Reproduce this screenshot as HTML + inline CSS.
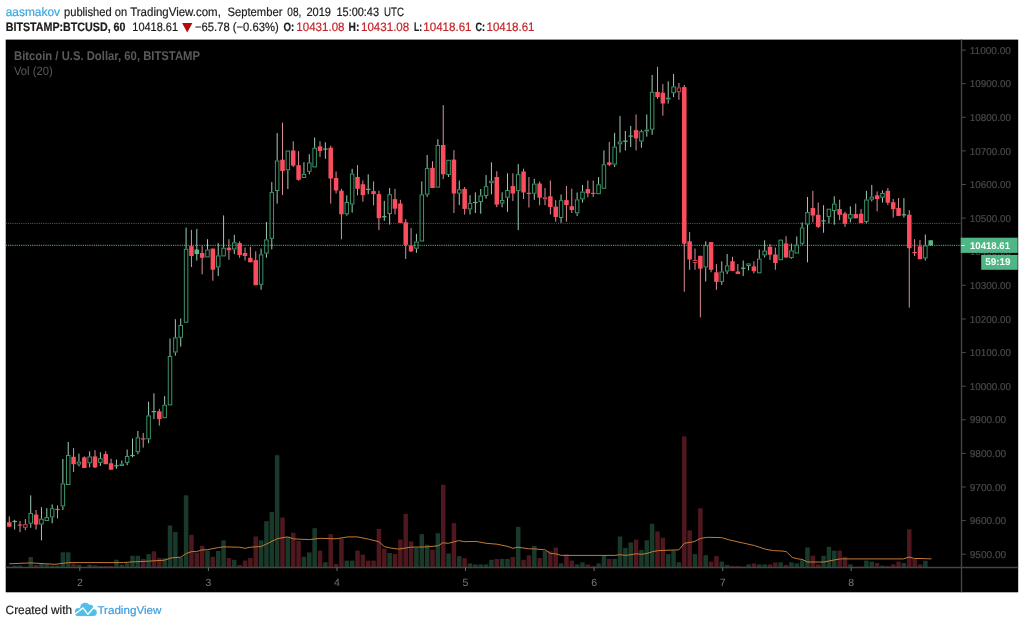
<!DOCTYPE html>
<html lang="en">
<head>
<meta charset="utf-8">
<title>BTCUSD chart</title>
<style>
html,body{margin:0;padding:0;background:#fff;}
body{width:1024px;height:626px;position:relative;overflow:hidden;font-family:"Liberation Sans",Arial,sans-serif;}
svg.chart{position:absolute;left:0;top:0;will-change:transform;}
svg.txt{position:absolute;left:0;top:0;will-change:transform;}
</style>
</head>
<body>
<svg class="chart" width="1024" height="626" viewBox="0 0 1024 626" text-rendering="geometricPrecision">
<rect x="5.7" y="39.6" width="1012.5" height="552.7" fill="#000"/>
<g>
<rect x="7.05" y="566.6" width="4.5" height="0.5" fill="#4e181e"/>
<rect x="12.41" y="565.6" width="4.5" height="1.5" fill="#193a2a"/>
<rect x="17.76" y="565.6" width="4.5" height="1.5" fill="#193a2a"/>
<rect x="28.48" y="557.0" width="4.5" height="10.1" fill="#193a2a"/>
<rect x="33.84" y="565.0" width="4.5" height="2.1" fill="#4e181e"/>
<rect x="39.19" y="563.6" width="4.5" height="3.5" fill="#193a2a"/>
<rect x="44.55" y="564.3" width="4.5" height="2.8" fill="#193a2a"/>
<rect x="49.91" y="565.6" width="4.5" height="1.5" fill="#193a2a"/>
<rect x="55.26" y="565.6" width="4.5" height="1.5" fill="#193a2a"/>
<rect x="60.62" y="552.3" width="4.5" height="14.8" fill="#193a2a"/>
<rect x="65.98" y="552.3" width="4.5" height="14.8" fill="#193a2a"/>
<rect x="71.33" y="563.6" width="4.5" height="3.5" fill="#4e181e"/>
<rect x="76.69" y="564.7" width="4.5" height="2.4" fill="#193a2a"/>
<rect x="82.05" y="566.7" width="4.5" height="0.4" fill="#4e181e"/>
<rect x="87.41" y="564.7" width="4.5" height="2.4" fill="#193a2a"/>
<rect x="92.76" y="565.2" width="4.5" height="1.9" fill="#4e181e"/>
<rect x="98.12" y="566.0" width="4.5" height="1.1" fill="#193a2a"/>
<rect x="103.48" y="566.0" width="4.5" height="1.1" fill="#4e181e"/>
<rect x="108.83" y="566.0" width="4.5" height="1.1" fill="#4e181e"/>
<rect x="114.19" y="559.7" width="4.5" height="7.4" fill="#193a2a"/>
<rect x="119.55" y="564.7" width="4.5" height="2.4" fill="#193a2a"/>
<rect x="124.90" y="563.3" width="4.5" height="3.8" fill="#193a2a"/>
<rect x="130.26" y="555.8" width="4.5" height="11.3" fill="#193a2a"/>
<rect x="135.62" y="555.8" width="4.5" height="11.3" fill="#193a2a"/>
<rect x="140.98" y="558.9" width="4.5" height="8.2" fill="#4e181e"/>
<rect x="146.33" y="554.1" width="4.5" height="13.0" fill="#193a2a"/>
<rect x="151.69" y="551.3" width="4.5" height="15.8" fill="#4e181e"/>
<rect x="157.05" y="557.9" width="4.5" height="9.2" fill="#4e181e"/>
<rect x="162.40" y="558.2" width="4.5" height="8.9" fill="#193a2a"/>
<rect x="167.76" y="525.5" width="4.5" height="41.6" fill="#193a2a"/>
<rect x="173.12" y="532.1" width="4.5" height="35.0" fill="#193a2a"/>
<rect x="178.47" y="557.5" width="4.5" height="9.6" fill="#193a2a"/>
<rect x="183.83" y="495.3" width="4.5" height="71.8" fill="#193a2a"/>
<rect x="189.19" y="534.8" width="4.5" height="32.3" fill="#4e181e"/>
<rect x="194.55" y="552.7" width="4.5" height="14.4" fill="#4e181e"/>
<rect x="199.90" y="545.8" width="4.5" height="21.3" fill="#4e181e"/>
<rect x="205.26" y="550.6" width="4.5" height="16.5" fill="#193a2a"/>
<rect x="210.62" y="556.8" width="4.5" height="10.3" fill="#4e181e"/>
<rect x="215.97" y="551.0" width="4.5" height="16.1" fill="#193a2a"/>
<rect x="221.33" y="540.3" width="4.5" height="26.8" fill="#193a2a"/>
<rect x="226.69" y="557.9" width="4.5" height="9.2" fill="#4e181e"/>
<rect x="232.04" y="559.8" width="4.5" height="7.3" fill="#193a2a"/>
<rect x="237.40" y="565.0" width="4.5" height="2.1" fill="#4e181e"/>
<rect x="242.76" y="560.6" width="4.5" height="6.5" fill="#4e181e"/>
<rect x="248.12" y="557.9" width="4.5" height="9.2" fill="#4e181e"/>
<rect x="253.47" y="536.5" width="4.5" height="30.6" fill="#4e181e"/>
<rect x="258.83" y="540.3" width="4.5" height="26.8" fill="#193a2a"/>
<rect x="264.19" y="521.1" width="4.5" height="46.0" fill="#193a2a"/>
<rect x="269.54" y="512.0" width="4.5" height="55.1" fill="#193a2a"/>
<rect x="274.90" y="455.2" width="4.5" height="111.9" fill="#193a2a"/>
<rect x="280.26" y="517.5" width="4.5" height="49.6" fill="#4e181e"/>
<rect x="285.61" y="536.9" width="4.5" height="30.2" fill="#193a2a"/>
<rect x="290.97" y="532.8" width="4.5" height="34.3" fill="#4e181e"/>
<rect x="296.33" y="541.0" width="4.5" height="26.1" fill="#4e181e"/>
<rect x="301.69" y="556.8" width="4.5" height="10.3" fill="#193a2a"/>
<rect x="307.04" y="552.4" width="4.5" height="14.7" fill="#193a2a"/>
<rect x="312.40" y="528.2" width="4.5" height="38.9" fill="#193a2a"/>
<rect x="317.76" y="550.6" width="4.5" height="16.5" fill="#4e181e"/>
<rect x="323.11" y="562.3" width="4.5" height="4.8" fill="#193a2a"/>
<rect x="328.47" y="534.1" width="4.5" height="33.0" fill="#4e181e"/>
<rect x="333.83" y="563.9" width="4.5" height="3.2" fill="#4e181e"/>
<rect x="339.18" y="538.7" width="4.5" height="28.4" fill="#4e181e"/>
<rect x="344.54" y="560.6" width="4.5" height="6.5" fill="#193a2a"/>
<rect x="349.90" y="560.6" width="4.5" height="6.5" fill="#193a2a"/>
<rect x="355.26" y="550.6" width="4.5" height="16.5" fill="#4e181e"/>
<rect x="360.61" y="554.7" width="4.5" height="12.4" fill="#4e181e"/>
<rect x="365.97" y="560.6" width="4.5" height="6.5" fill="#4e181e"/>
<rect x="371.33" y="560.6" width="4.5" height="6.5" fill="#4e181e"/>
<rect x="376.68" y="529.0" width="4.5" height="38.1" fill="#4e181e"/>
<rect x="382.04" y="548.6" width="4.5" height="18.5" fill="#4e181e"/>
<rect x="387.40" y="553.0" width="4.5" height="14.1" fill="#193a2a"/>
<rect x="392.75" y="554.0" width="4.5" height="13.1" fill="#4e181e"/>
<rect x="398.11" y="539.6" width="4.5" height="27.5" fill="#4e181e"/>
<rect x="403.47" y="513.9" width="4.5" height="53.2" fill="#4e181e"/>
<rect x="408.83" y="541.4" width="4.5" height="25.7" fill="#4e181e"/>
<rect x="414.18" y="547.9" width="4.5" height="19.2" fill="#193a2a"/>
<rect x="419.54" y="534.1" width="4.5" height="33.0" fill="#193a2a"/>
<rect x="424.90" y="544.7" width="4.5" height="22.4" fill="#193a2a"/>
<rect x="430.25" y="549.7" width="4.5" height="17.4" fill="#4e181e"/>
<rect x="435.61" y="533.2" width="4.5" height="33.9" fill="#193a2a"/>
<rect x="440.97" y="484.7" width="4.5" height="82.4" fill="#4e181e"/>
<rect x="446.32" y="553.4" width="4.5" height="13.7" fill="#193a2a"/>
<rect x="451.68" y="523.1" width="4.5" height="44.0" fill="#4e181e"/>
<rect x="457.04" y="556.1" width="4.5" height="11.0" fill="#193a2a"/>
<rect x="462.40" y="558.2" width="4.5" height="8.9" fill="#4e181e"/>
<rect x="467.75" y="563.4" width="4.5" height="3.7" fill="#193a2a"/>
<rect x="473.11" y="564.4" width="4.5" height="2.7" fill="#193a2a"/>
<rect x="478.47" y="564.4" width="4.5" height="2.7" fill="#193a2a"/>
<rect x="483.82" y="564.4" width="4.5" height="2.7" fill="#193a2a"/>
<rect x="489.18" y="559.8" width="4.5" height="7.3" fill="#193a2a"/>
<rect x="494.54" y="558.9" width="4.5" height="8.2" fill="#4e181e"/>
<rect x="499.89" y="558.9" width="4.5" height="8.2" fill="#193a2a"/>
<rect x="505.25" y="558.9" width="4.5" height="8.2" fill="#193a2a"/>
<rect x="510.61" y="557.1" width="4.5" height="10.0" fill="#4e181e"/>
<rect x="515.97" y="526.9" width="4.5" height="40.2" fill="#193a2a"/>
<rect x="521.32" y="559.8" width="4.5" height="7.3" fill="#4e181e"/>
<rect x="526.68" y="555.2" width="4.5" height="11.9" fill="#4e181e"/>
<rect x="532.04" y="545.8" width="4.5" height="21.3" fill="#193a2a"/>
<rect x="537.39" y="557.9" width="4.5" height="9.2" fill="#4e181e"/>
<rect x="542.75" y="551.0" width="4.5" height="16.1" fill="#193a2a"/>
<rect x="548.11" y="551.3" width="4.5" height="15.8" fill="#4e181e"/>
<rect x="553.46" y="547.5" width="4.5" height="19.6" fill="#4e181e"/>
<rect x="558.82" y="563.4" width="4.5" height="3.7" fill="#193a2a"/>
<rect x="564.18" y="554.3" width="4.5" height="12.8" fill="#4e181e"/>
<rect x="569.53" y="560.6" width="4.5" height="6.5" fill="#4e181e"/>
<rect x="574.89" y="564.4" width="4.5" height="2.7" fill="#193a2a"/>
<rect x="580.25" y="562.3" width="4.5" height="4.8" fill="#193a2a"/>
<rect x="585.61" y="564.4" width="4.5" height="2.7" fill="#4e181e"/>
<rect x="590.96" y="566.1" width="4.5" height="1.0" fill="#4e181e"/>
<rect x="596.32" y="563.4" width="4.5" height="3.7" fill="#193a2a"/>
<rect x="601.68" y="555.4" width="4.5" height="11.7" fill="#193a2a"/>
<rect x="607.03" y="558.9" width="4.5" height="8.2" fill="#4e181e"/>
<rect x="612.39" y="558.9" width="4.5" height="8.2" fill="#193a2a"/>
<rect x="617.75" y="536.5" width="4.5" height="30.6" fill="#193a2a"/>
<rect x="623.11" y="547.9" width="4.5" height="19.2" fill="#193a2a"/>
<rect x="628.46" y="542.4" width="4.5" height="24.7" fill="#193a2a"/>
<rect x="633.82" y="539.6" width="4.5" height="27.5" fill="#4e181e"/>
<rect x="639.18" y="549.9" width="4.5" height="17.2" fill="#193a2a"/>
<rect x="644.53" y="540.3" width="4.5" height="26.8" fill="#193a2a"/>
<rect x="649.89" y="523.8" width="4.5" height="43.3" fill="#193a2a"/>
<rect x="655.25" y="531.4" width="4.5" height="35.7" fill="#4e181e"/>
<rect x="660.60" y="537.8" width="4.5" height="29.3" fill="#4e181e"/>
<rect x="665.96" y="554.1" width="4.5" height="13.0" fill="#193a2a"/>
<rect x="671.32" y="550.6" width="4.5" height="16.5" fill="#193a2a"/>
<rect x="676.67" y="562.3" width="4.5" height="4.8" fill="#193a2a"/>
<rect x="682.03" y="436.4" width="4.5" height="130.7" fill="#4e181e"/>
<rect x="687.39" y="530.4" width="4.5" height="36.7" fill="#4e181e"/>
<rect x="692.75" y="554.1" width="4.5" height="13.0" fill="#193a2a"/>
<rect x="698.10" y="508.3" width="4.5" height="58.8" fill="#4e181e"/>
<rect x="703.46" y="555.2" width="4.5" height="11.9" fill="#193a2a"/>
<rect x="708.82" y="561.6" width="4.5" height="5.5" fill="#4e181e"/>
<rect x="714.17" y="556.1" width="4.5" height="11.0" fill="#4e181e"/>
<rect x="719.53" y="561.6" width="4.5" height="5.5" fill="#193a2a"/>
<rect x="724.89" y="565.0" width="4.5" height="2.1" fill="#193a2a"/>
<rect x="730.25" y="566.1" width="4.5" height="1.0" fill="#4e181e"/>
<rect x="735.60" y="566.1" width="4.5" height="1.0" fill="#4e181e"/>
<rect x="740.96" y="566.6" width="4.5" height="0.5" fill="#193a2a"/>
<rect x="746.32" y="564.4" width="4.5" height="2.7" fill="#193a2a"/>
<rect x="751.67" y="563.4" width="4.5" height="3.7" fill="#4e181e"/>
<rect x="757.03" y="564.4" width="4.5" height="2.7" fill="#193a2a"/>
<rect x="762.39" y="564.4" width="4.5" height="2.7" fill="#193a2a"/>
<rect x="767.74" y="564.4" width="4.5" height="2.7" fill="#4e181e"/>
<rect x="773.10" y="562.6" width="4.5" height="4.5" fill="#4e181e"/>
<rect x="778.46" y="562.3" width="4.5" height="4.8" fill="#193a2a"/>
<rect x="783.81" y="565.0" width="4.5" height="2.1" fill="#4e181e"/>
<rect x="789.17" y="562.3" width="4.5" height="4.8" fill="#193a2a"/>
<rect x="794.53" y="563.4" width="4.5" height="3.7" fill="#193a2a"/>
<rect x="799.89" y="560.2" width="4.5" height="6.9" fill="#193a2a"/>
<rect x="805.24" y="547.5" width="4.5" height="19.6" fill="#193a2a"/>
<rect x="810.60" y="555.7" width="4.5" height="11.4" fill="#4e181e"/>
<rect x="815.96" y="564.4" width="4.5" height="2.7" fill="#4e181e"/>
<rect x="821.31" y="555.7" width="4.5" height="11.4" fill="#193a2a"/>
<rect x="826.67" y="546.9" width="4.5" height="20.2" fill="#193a2a"/>
<rect x="832.03" y="550.6" width="4.5" height="16.5" fill="#193a2a"/>
<rect x="837.38" y="550.6" width="4.5" height="16.5" fill="#4e181e"/>
<rect x="842.74" y="556.8" width="4.5" height="10.3" fill="#4e181e"/>
<rect x="848.10" y="564.4" width="4.5" height="2.7" fill="#193a2a"/>
<rect x="853.46" y="566.7" width="4.5" height="0.4" fill="#4e181e"/>
<rect x="858.81" y="566.7" width="4.5" height="0.4" fill="#4e181e"/>
<rect x="864.17" y="560.6" width="4.5" height="6.5" fill="#193a2a"/>
<rect x="869.53" y="561.6" width="4.5" height="5.5" fill="#193a2a"/>
<rect x="874.88" y="563.0" width="4.5" height="4.1" fill="#4e181e"/>
<rect x="880.24" y="565.7" width="4.5" height="1.4" fill="#193a2a"/>
<rect x="885.60" y="566.1" width="4.5" height="1.0" fill="#4e181e"/>
<rect x="890.96" y="564.4" width="4.5" height="2.7" fill="#4e181e"/>
<rect x="896.31" y="561.6" width="4.5" height="5.5" fill="#4e181e"/>
<rect x="901.67" y="563.0" width="4.5" height="4.1" fill="#193a2a"/>
<rect x="907.03" y="529.3" width="4.5" height="37.8" fill="#4e181e"/>
<rect x="912.38" y="559.0" width="4.5" height="8.1" fill="#4e181e"/>
<rect x="917.74" y="564.5" width="4.5" height="2.6" fill="#4e181e"/>
<rect x="923.10" y="560.8" width="4.5" height="6.3" fill="#193a2a"/>
</g>
<polyline points="9.3,563.8 30.0,562.9 55.0,564.3 68.7,562.6 123.6,562.6 131.9,561.9 147.9,561.2 164.3,560.2 171.2,557.9 180.8,557.2 186.3,553.4 191.8,551.6 196.6,551.6 201.8,549.9 207.3,549.7 218.6,547.5 223.8,546.9 239.5,547.2 245.0,548.3 250.5,547.2 261.2,546.5 266.9,543.8 277.2,538.7 287.5,536.9 293.7,538.9 309.5,539.6 320.2,538.3 330.7,538.7 336.9,538.7 347.9,536.9 357.5,536.9 368.5,539.2 378.8,541.7 384.3,546.5 389.8,547.9 398.5,549.1 410.6,547.2 427.1,546.9 438.1,545.8 442.9,542.8 448.4,543.3 458.7,540.6 464.9,541.7 475.9,541.4 486.2,543.3 497.1,544.2 508.1,546.5 512.9,548.3 518.0,547.2 528.7,548.8 533.7,548.8 545.4,549.9 550.2,553.4 555.7,553.8 561.2,555.4 614.8,555.4 620.3,554.7 625.8,555.4 636.1,553.8 642.3,554.3 647.1,553.4 652.6,551.6 658.7,550.6 667.9,550.2 678.8,549.9 684.3,543.3 694.0,541.7 700.8,538.3 707.7,537.3 721.4,537.6 729.7,540.0 743.4,543.1 754.4,545.5 765.4,549.2 773.6,550.6 781.9,551.0 786.2,551.6 792.4,557.5 797.9,558.9 802.0,559.3 807.5,562.0 824.0,562.0 834.9,559.8 840.4,558.9 903.6,558.9 909.1,557.1 914.6,558.5 920.0,558.5 931.4,558.9" fill="none" stroke="#c47a35" stroke-width="1" stroke-linejoin="round"/>
<line x1="5.7" y1="223.4" x2="961.5" y2="223.4" stroke="#585858" stroke-width="1" stroke-dasharray="1.1 1.1" stroke-dashoffset="-0.1"/>
<line x1="5.7" y1="245.3" x2="961.5" y2="245.3" stroke="#409e71" stroke-width="1.15" stroke-dasharray="1.1 1.1" stroke-dashoffset="-0.1"/>
<g>
<line x1="9.30" y1="516.4" x2="9.30" y2="526.7" stroke="#d98f97" stroke-width="1"/>
<rect x="7.05" y="522.3" width="4.5" height="4.4" fill="#fb4d5e"/>
<line x1="14.66" y1="519.8" x2="14.66" y2="529.5" stroke="#9ccdb5" stroke-width="1"/>
<rect x="12.41" y="520.9" width="4.5" height="1.2" fill="#53b987"/>
<line x1="20.01" y1="521.0" x2="20.01" y2="532.2" stroke="#d98f97" stroke-width="1"/>
<rect x="17.76" y="524.5" width="4.5" height="1.2" fill="#fb4d5e"/>
<line x1="25.37" y1="519.1" x2="25.37" y2="524.2" stroke="#d98f97" stroke-width="1"/>
<line x1="25.37" y1="527.8" x2="25.37" y2="530.1" stroke="#d98f97" stroke-width="1"/>
<rect x="23.62" y="524.7" width="3.5" height="2.6" fill="none" stroke="#d2404f" stroke-width="1"/>
<line x1="30.73" y1="495.4" x2="30.73" y2="513.0" stroke="#9ccdb5" stroke-width="1"/>
<line x1="30.73" y1="523.7" x2="30.73" y2="527.8" stroke="#9ccdb5" stroke-width="1"/>
<rect x="28.98" y="513.5" width="3.5" height="9.7" fill="none" stroke="#3c966a" stroke-width="1"/>
<line x1="36.09" y1="510.0" x2="36.09" y2="529.5" stroke="#d98f97" stroke-width="1"/>
<rect x="33.84" y="514.6" width="4.5" height="10.0" fill="#fb4d5e"/>
<line x1="41.44" y1="507.2" x2="41.44" y2="518.7" stroke="#9ccdb5" stroke-width="1"/>
<line x1="41.44" y1="524.6" x2="41.44" y2="540.4" stroke="#9ccdb5" stroke-width="1"/>
<rect x="39.69" y="519.2" width="3.5" height="4.9" fill="none" stroke="#3c966a" stroke-width="1"/>
<line x1="46.80" y1="508.2" x2="46.80" y2="517.1" stroke="#9ccdb5" stroke-width="1"/>
<rect x="45.05" y="517.6" width="3.5" height="2.9" fill="none" stroke="#3c966a" stroke-width="1"/>
<line x1="52.16" y1="504.5" x2="52.16" y2="508.2" stroke="#9ccdb5" stroke-width="1"/>
<line x1="52.16" y1="517.4" x2="52.16" y2="523.3" stroke="#9ccdb5" stroke-width="1"/>
<rect x="50.41" y="508.7" width="3.5" height="8.2" fill="none" stroke="#3c966a" stroke-width="1"/>
<line x1="57.51" y1="505.4" x2="57.51" y2="518.5" stroke="#d98f97" stroke-width="1"/>
<rect x="55.26" y="508.9" width="4.5" height="1.2" fill="#fb4d5e"/>
<line x1="62.87" y1="459.0" x2="62.87" y2="483.4" stroke="#9ccdb5" stroke-width="1"/>
<line x1="62.87" y1="506.4" x2="62.87" y2="510.0" stroke="#9ccdb5" stroke-width="1"/>
<rect x="61.12" y="483.9" width="3.5" height="22.0" fill="none" stroke="#3c966a" stroke-width="1"/>
<line x1="68.23" y1="442.0" x2="68.23" y2="455.0" stroke="#9ccdb5" stroke-width="1"/>
<rect x="66.48" y="455.5" width="3.5" height="29.0" fill="none" stroke="#3c966a" stroke-width="1"/>
<line x1="73.58" y1="448.0" x2="73.58" y2="472.0" stroke="#d98f97" stroke-width="1"/>
<rect x="71.33" y="456.8" width="4.5" height="7.4" fill="#fb4d5e"/>
<line x1="78.94" y1="453.6" x2="78.94" y2="461.6" stroke="#9ccdb5" stroke-width="1"/>
<line x1="78.94" y1="464.6" x2="78.94" y2="466.4" stroke="#9ccdb5" stroke-width="1"/>
<rect x="77.19" y="462.1" width="3.5" height="2.0" fill="none" stroke="#3c966a" stroke-width="1"/>
<line x1="84.30" y1="456.4" x2="84.30" y2="468.0" stroke="#d98f97" stroke-width="1"/>
<rect x="82.05" y="457.4" width="4.5" height="10.6" fill="#fb4d5e"/>
<line x1="89.66" y1="451.3" x2="89.66" y2="456.4" stroke="#9ccdb5" stroke-width="1"/>
<line x1="89.66" y1="463.3" x2="89.66" y2="467.4" stroke="#9ccdb5" stroke-width="1"/>
<rect x="87.91" y="456.9" width="3.5" height="5.9" fill="none" stroke="#3c966a" stroke-width="1"/>
<line x1="95.01" y1="450.2" x2="95.01" y2="468.0" stroke="#d98f97" stroke-width="1"/>
<rect x="92.76" y="456.4" width="4.5" height="11.0" fill="#fb4d5e"/>
<line x1="100.37" y1="452.3" x2="100.37" y2="458.2" stroke="#9ccdb5" stroke-width="1"/>
<line x1="100.37" y1="462.9" x2="100.37" y2="466.0" stroke="#9ccdb5" stroke-width="1"/>
<rect x="98.62" y="458.7" width="3.5" height="3.7" fill="none" stroke="#3c966a" stroke-width="1"/>
<line x1="105.73" y1="451.3" x2="105.73" y2="464.2" stroke="#d98f97" stroke-width="1"/>
<rect x="103.48" y="454.0" width="4.5" height="10.2" fill="#fb4d5e"/>
<line x1="111.08" y1="458.7" x2="111.08" y2="469.7" stroke="#d98f97" stroke-width="1"/>
<rect x="108.83" y="463.3" width="4.5" height="6.4" fill="#fb4d5e"/>
<line x1="116.44" y1="459.6" x2="116.44" y2="468.8" stroke="#9ccdb5" stroke-width="1"/>
<rect x="114.19" y="465.2" width="4.5" height="1.2" fill="#53b987"/>
<line x1="121.80" y1="460.5" x2="121.80" y2="463.7" stroke="#9ccdb5" stroke-width="1"/>
<rect x="120.05" y="464.2" width="3.5" height="1.3" fill="none" stroke="#3c966a" stroke-width="1"/>
<line x1="127.15" y1="449.5" x2="127.15" y2="456.0" stroke="#9ccdb5" stroke-width="1"/>
<line x1="127.15" y1="462.9" x2="127.15" y2="465.3" stroke="#9ccdb5" stroke-width="1"/>
<rect x="125.40" y="456.5" width="3.5" height="5.9" fill="none" stroke="#3c966a" stroke-width="1"/>
<line x1="132.51" y1="438.5" x2="132.51" y2="457.3" stroke="#9ccdb5" stroke-width="1"/>
<rect x="130.26" y="454.9" width="4.5" height="1.2" fill="#53b987"/>
<line x1="137.87" y1="431.0" x2="137.87" y2="437.3" stroke="#9ccdb5" stroke-width="1"/>
<line x1="137.87" y1="452.2" x2="137.87" y2="454.2" stroke="#9ccdb5" stroke-width="1"/>
<rect x="136.12" y="437.8" width="3.5" height="13.9" fill="none" stroke="#3c966a" stroke-width="1"/>
<line x1="143.23" y1="432.9" x2="143.23" y2="447.6" stroke="#d98f97" stroke-width="1"/>
<rect x="140.98" y="438.3" width="4.5" height="1.2" fill="#fb4d5e"/>
<line x1="148.58" y1="401.7" x2="148.58" y2="415.4" stroke="#9ccdb5" stroke-width="1"/>
<line x1="148.58" y1="439.3" x2="148.58" y2="443.2" stroke="#9ccdb5" stroke-width="1"/>
<rect x="146.83" y="415.9" width="3.5" height="22.9" fill="none" stroke="#3c966a" stroke-width="1"/>
<line x1="153.94" y1="393.3" x2="153.94" y2="419.1" stroke="#9ccdb5" stroke-width="1"/>
<rect x="151.69" y="411.0" width="4.5" height="1.2" fill="#53b987"/>
<line x1="159.30" y1="408.8" x2="159.30" y2="425.6" stroke="#d98f97" stroke-width="1"/>
<rect x="157.05" y="411.3" width="4.5" height="7.8" fill="#fb4d5e"/>
<line x1="164.65" y1="396.2" x2="164.65" y2="404.7" stroke="#9ccdb5" stroke-width="1"/>
<rect x="162.90" y="405.2" width="3.5" height="12.5" fill="none" stroke="#3c966a" stroke-width="1"/>
<line x1="170.01" y1="338.5" x2="170.01" y2="356.0" stroke="#9ccdb5" stroke-width="1"/>
<rect x="168.26" y="356.5" width="3.5" height="48.4" fill="none" stroke="#3c966a" stroke-width="1"/>
<line x1="175.37" y1="319.2" x2="175.37" y2="337.4" stroke="#9ccdb5" stroke-width="1"/>
<line x1="175.37" y1="352.5" x2="175.37" y2="355.6" stroke="#9ccdb5" stroke-width="1"/>
<rect x="173.62" y="337.9" width="3.5" height="14.1" fill="none" stroke="#3c966a" stroke-width="1"/>
<line x1="180.72" y1="318.5" x2="180.72" y2="325.0" stroke="#9ccdb5" stroke-width="1"/>
<line x1="180.72" y1="337.8" x2="180.72" y2="346.7" stroke="#9ccdb5" stroke-width="1"/>
<rect x="178.97" y="325.5" width="3.5" height="11.8" fill="none" stroke="#3c966a" stroke-width="1"/>
<line x1="186.08" y1="227.6" x2="186.08" y2="248.8" stroke="#9ccdb5" stroke-width="1"/>
<rect x="184.33" y="249.3" width="3.5" height="72.9" fill="none" stroke="#3c966a" stroke-width="1"/>
<line x1="191.44" y1="229.9" x2="191.44" y2="267.0" stroke="#d98f97" stroke-width="1"/>
<rect x="189.19" y="246.1" width="4.5" height="9.9" fill="#fb4d5e"/>
<line x1="196.80" y1="228.9" x2="196.80" y2="260.5" stroke="#9ccdb5" stroke-width="1"/>
<rect x="194.55" y="249.5" width="4.5" height="4.6" fill="#53b987"/>
<line x1="202.15" y1="245.8" x2="202.15" y2="274.3" stroke="#d98f97" stroke-width="1"/>
<rect x="199.90" y="253.0" width="4.5" height="4.8" fill="#fb4d5e"/>
<line x1="207.51" y1="239.2" x2="207.51" y2="249.5" stroke="#9ccdb5" stroke-width="1"/>
<rect x="205.76" y="250.0" width="3.5" height="6.9" fill="none" stroke="#3c966a" stroke-width="1"/>
<line x1="212.87" y1="248.6" x2="212.87" y2="280.7" stroke="#d98f97" stroke-width="1"/>
<rect x="210.62" y="248.6" width="4.5" height="21.1" fill="#fb4d5e"/>
<line x1="218.22" y1="243.1" x2="218.22" y2="255.4" stroke="#9ccdb5" stroke-width="1"/>
<line x1="218.22" y1="267.4" x2="218.22" y2="276.0" stroke="#9ccdb5" stroke-width="1"/>
<rect x="216.47" y="255.9" width="3.5" height="11.0" fill="none" stroke="#3c966a" stroke-width="1"/>
<line x1="223.58" y1="215.4" x2="223.58" y2="247.7" stroke="#9ccdb5" stroke-width="1"/>
<rect x="221.83" y="248.2" width="3.5" height="7.7" fill="none" stroke="#3c966a" stroke-width="1"/>
<line x1="228.94" y1="239.2" x2="228.94" y2="259.8" stroke="#d98f97" stroke-width="1"/>
<rect x="226.69" y="247.7" width="4.5" height="2.5" fill="#fb4d5e"/>
<line x1="234.29" y1="234.8" x2="234.29" y2="242.3" stroke="#9ccdb5" stroke-width="1"/>
<line x1="234.29" y1="249.5" x2="234.29" y2="254.1" stroke="#9ccdb5" stroke-width="1"/>
<rect x="232.54" y="242.8" width="3.5" height="6.2" fill="none" stroke="#3c966a" stroke-width="1"/>
<line x1="239.65" y1="241.3" x2="239.65" y2="257.8" stroke="#d98f97" stroke-width="1"/>
<rect x="237.40" y="243.1" width="4.5" height="11.9" fill="#fb4d5e"/>
<line x1="245.01" y1="247.5" x2="245.01" y2="260.5" stroke="#d98f97" stroke-width="1"/>
<rect x="242.76" y="253.0" width="4.5" height="3.0" fill="#fb4d5e"/>
<line x1="250.37" y1="246.8" x2="250.37" y2="262.3" stroke="#d98f97" stroke-width="1"/>
<rect x="248.12" y="257.8" width="4.5" height="4.5" fill="#fb4d5e"/>
<line x1="255.72" y1="251.3" x2="255.72" y2="285.2" stroke="#d98f97" stroke-width="1"/>
<rect x="253.47" y="260.1" width="4.5" height="25.1" fill="#fb4d5e"/>
<line x1="261.08" y1="248.6" x2="261.08" y2="254.3" stroke="#9ccdb5" stroke-width="1"/>
<line x1="261.08" y1="284.8" x2="261.08" y2="289.8" stroke="#9ccdb5" stroke-width="1"/>
<rect x="259.33" y="254.8" width="3.5" height="29.5" fill="none" stroke="#3c966a" stroke-width="1"/>
<line x1="266.44" y1="222.0" x2="266.44" y2="239.4" stroke="#9ccdb5" stroke-width="1"/>
<line x1="266.44" y1="253.6" x2="266.44" y2="257.7" stroke="#9ccdb5" stroke-width="1"/>
<rect x="264.69" y="239.9" width="3.5" height="13.2" fill="none" stroke="#3c966a" stroke-width="1"/>
<line x1="271.79" y1="182.1" x2="271.79" y2="192.1" stroke="#9ccdb5" stroke-width="1"/>
<line x1="271.79" y1="238.8" x2="271.79" y2="249.4" stroke="#9ccdb5" stroke-width="1"/>
<rect x="270.04" y="192.6" width="3.5" height="45.7" fill="none" stroke="#3c966a" stroke-width="1"/>
<line x1="277.15" y1="133.1" x2="277.15" y2="160.5" stroke="#9ccdb5" stroke-width="1"/>
<line x1="277.15" y1="191.0" x2="277.15" y2="203.6" stroke="#9ccdb5" stroke-width="1"/>
<rect x="275.40" y="161.0" width="3.5" height="29.5" fill="none" stroke="#3c966a" stroke-width="1"/>
<line x1="282.51" y1="122.6" x2="282.51" y2="195.1" stroke="#d98f97" stroke-width="1"/>
<rect x="280.26" y="159.7" width="4.5" height="11.4" fill="#fb4d5e"/>
<line x1="287.86" y1="170.2" x2="287.86" y2="189.0" stroke="#9ccdb5" stroke-width="1"/>
<rect x="286.11" y="151.0" width="3.5" height="18.7" fill="none" stroke="#3c966a" stroke-width="1"/>
<line x1="293.22" y1="141.3" x2="293.22" y2="167.0" stroke="#d98f97" stroke-width="1"/>
<rect x="290.97" y="150.5" width="4.5" height="15.1" fill="#fb4d5e"/>
<line x1="298.58" y1="151.2" x2="298.58" y2="180.7" stroke="#d98f97" stroke-width="1"/>
<rect x="296.33" y="165.2" width="4.5" height="14.6" fill="#fb4d5e"/>
<line x1="303.94" y1="162.2" x2="303.94" y2="173.9" stroke="#9ccdb5" stroke-width="1"/>
<rect x="302.19" y="174.4" width="3.5" height="3.1" fill="none" stroke="#3c966a" stroke-width="1"/>
<line x1="309.29" y1="154.2" x2="309.29" y2="162.5" stroke="#9ccdb5" stroke-width="1"/>
<line x1="309.29" y1="171.8" x2="309.29" y2="174.3" stroke="#9ccdb5" stroke-width="1"/>
<rect x="307.54" y="163.0" width="3.5" height="8.3" fill="none" stroke="#3c966a" stroke-width="1"/>
<line x1="314.65" y1="137.5" x2="314.65" y2="147.8" stroke="#9ccdb5" stroke-width="1"/>
<rect x="312.90" y="148.3" width="3.5" height="18.6" fill="none" stroke="#3c966a" stroke-width="1"/>
<line x1="320.01" y1="141.3" x2="320.01" y2="157.0" stroke="#d98f97" stroke-width="1"/>
<rect x="317.76" y="146.4" width="4.5" height="4.5" fill="#fb4d5e"/>
<line x1="325.36" y1="142.3" x2="325.36" y2="158.8" stroke="#9ccdb5" stroke-width="1"/>
<rect x="323.11" y="148.5" width="4.5" height="1.2" fill="#53b987"/>
<line x1="330.72" y1="145.7" x2="330.72" y2="203.6" stroke="#d98f97" stroke-width="1"/>
<rect x="328.47" y="147.7" width="4.5" height="30.8" fill="#fb4d5e"/>
<line x1="336.08" y1="171.5" x2="336.08" y2="193.5" stroke="#d98f97" stroke-width="1"/>
<rect x="333.83" y="178.0" width="4.5" height="12.5" fill="#fb4d5e"/>
<line x1="341.43" y1="188.8" x2="341.43" y2="239.3" stroke="#d98f97" stroke-width="1"/>
<rect x="339.18" y="190.7" width="4.5" height="23.6" fill="#fb4d5e"/>
<line x1="346.79" y1="195.4" x2="346.79" y2="202.0" stroke="#9ccdb5" stroke-width="1"/>
<line x1="346.79" y1="214.3" x2="346.79" y2="215.7" stroke="#9ccdb5" stroke-width="1"/>
<rect x="345.04" y="202.5" width="3.5" height="11.3" fill="none" stroke="#3c966a" stroke-width="1"/>
<line x1="352.15" y1="168.8" x2="352.15" y2="173.6" stroke="#9ccdb5" stroke-width="1"/>
<line x1="352.15" y1="204.5" x2="352.15" y2="212.7" stroke="#9ccdb5" stroke-width="1"/>
<rect x="350.40" y="174.1" width="3.5" height="29.9" fill="none" stroke="#3c966a" stroke-width="1"/>
<line x1="357.51" y1="165.1" x2="357.51" y2="195.4" stroke="#d98f97" stroke-width="1"/>
<rect x="355.26" y="177.0" width="4.5" height="11.8" fill="#fb4d5e"/>
<line x1="362.86" y1="180.5" x2="362.86" y2="201.7" stroke="#d98f97" stroke-width="1"/>
<rect x="360.61" y="184.2" width="4.5" height="11.0" fill="#fb4d5e"/>
<line x1="368.22" y1="174.3" x2="368.22" y2="194.3" stroke="#9ccdb5" stroke-width="1"/>
<rect x="365.97" y="188.8" width="4.5" height="1.2" fill="#53b987"/>
<line x1="373.58" y1="181.4" x2="373.58" y2="205.3" stroke="#d98f97" stroke-width="1"/>
<rect x="371.33" y="191.1" width="4.5" height="3.0" fill="#fb4d5e"/>
<line x1="378.93" y1="190.7" x2="378.93" y2="230.1" stroke="#d98f97" stroke-width="1"/>
<rect x="376.68" y="194.1" width="4.5" height="24.1" fill="#fb4d5e"/>
<line x1="384.29" y1="200.8" x2="384.29" y2="220.9" stroke="#9ccdb5" stroke-width="1"/>
<rect x="382.04" y="216.1" width="4.5" height="1.2" fill="#53b987"/>
<line x1="389.65" y1="188.0" x2="389.65" y2="194.2" stroke="#9ccdb5" stroke-width="1"/>
<line x1="389.65" y1="214.0" x2="389.65" y2="224.6" stroke="#9ccdb5" stroke-width="1"/>
<rect x="387.90" y="194.7" width="3.5" height="18.8" fill="none" stroke="#3c966a" stroke-width="1"/>
<line x1="395.00" y1="188.8" x2="395.00" y2="214.4" stroke="#d98f97" stroke-width="1"/>
<rect x="392.75" y="199.1" width="4.5" height="9.6" fill="#fb4d5e"/>
<line x1="400.36" y1="199.8" x2="400.36" y2="222.9" stroke="#d98f97" stroke-width="1"/>
<rect x="398.11" y="203.5" width="4.5" height="19.4" fill="#fb4d5e"/>
<line x1="405.72" y1="219.1" x2="405.72" y2="259.0" stroke="#d98f97" stroke-width="1"/>
<rect x="403.47" y="222.3" width="4.5" height="22.5" fill="#fb4d5e"/>
<line x1="411.08" y1="228.1" x2="411.08" y2="252.1" stroke="#d98f97" stroke-width="1"/>
<rect x="408.83" y="245.7" width="4.5" height="5.7" fill="#fb4d5e"/>
<line x1="416.43" y1="233.8" x2="416.43" y2="241.5" stroke="#9ccdb5" stroke-width="1"/>
<line x1="416.43" y1="248.7" x2="416.43" y2="252.8" stroke="#9ccdb5" stroke-width="1"/>
<rect x="414.68" y="242.0" width="3.5" height="6.2" fill="none" stroke="#3c966a" stroke-width="1"/>
<line x1="421.79" y1="181.4" x2="421.79" y2="194.4" stroke="#9ccdb5" stroke-width="1"/>
<rect x="420.04" y="194.9" width="3.5" height="46.1" fill="none" stroke="#3c966a" stroke-width="1"/>
<line x1="427.15" y1="155.0" x2="427.15" y2="168.1" stroke="#9ccdb5" stroke-width="1"/>
<line x1="427.15" y1="194.6" x2="427.15" y2="196.8" stroke="#9ccdb5" stroke-width="1"/>
<rect x="425.40" y="168.6" width="3.5" height="25.5" fill="none" stroke="#3c966a" stroke-width="1"/>
<line x1="432.50" y1="161.2" x2="432.50" y2="188.0" stroke="#d98f97" stroke-width="1"/>
<rect x="430.25" y="167.8" width="4.5" height="20.2" fill="#fb4d5e"/>
<line x1="437.86" y1="139.2" x2="437.86" y2="145.0" stroke="#9ccdb5" stroke-width="1"/>
<rect x="436.11" y="145.5" width="3.5" height="41.6" fill="none" stroke="#3c966a" stroke-width="1"/>
<line x1="443.22" y1="105.0" x2="443.22" y2="179.1" stroke="#d98f97" stroke-width="1"/>
<rect x="440.97" y="145.0" width="4.5" height="29.3" fill="#fb4d5e"/>
<line x1="448.57" y1="175.0" x2="448.57" y2="177.0" stroke="#9ccdb5" stroke-width="1"/>
<rect x="446.82" y="160.3" width="3.5" height="14.2" fill="none" stroke="#3c966a" stroke-width="1"/>
<line x1="453.93" y1="150.2" x2="453.93" y2="213.0" stroke="#d98f97" stroke-width="1"/>
<rect x="451.68" y="159.6" width="4.5" height="33.9" fill="#fb4d5e"/>
<line x1="459.29" y1="180.5" x2="459.29" y2="189.3" stroke="#9ccdb5" stroke-width="1"/>
<line x1="459.29" y1="193.6" x2="459.29" y2="205.1" stroke="#9ccdb5" stroke-width="1"/>
<rect x="457.54" y="189.8" width="3.5" height="3.3" fill="none" stroke="#3c966a" stroke-width="1"/>
<line x1="464.65" y1="187.0" x2="464.65" y2="214.5" stroke="#d98f97" stroke-width="1"/>
<rect x="462.40" y="188.9" width="4.5" height="20.0" fill="#fb4d5e"/>
<line x1="470.00" y1="195.1" x2="470.00" y2="203.1" stroke="#9ccdb5" stroke-width="1"/>
<line x1="470.00" y1="209.4" x2="470.00" y2="214.5" stroke="#9ccdb5" stroke-width="1"/>
<rect x="468.25" y="203.6" width="3.5" height="5.3" fill="none" stroke="#3c966a" stroke-width="1"/>
<line x1="475.36" y1="192.4" x2="475.36" y2="213.0" stroke="#9ccdb5" stroke-width="1"/>
<rect x="473.11" y="201.9" width="4.5" height="1.2" fill="#53b987"/>
<line x1="480.72" y1="189.0" x2="480.72" y2="195.5" stroke="#9ccdb5" stroke-width="1"/>
<line x1="480.72" y1="202.0" x2="480.72" y2="213.7" stroke="#9ccdb5" stroke-width="1"/>
<rect x="478.97" y="196.0" width="3.5" height="5.5" fill="none" stroke="#3c966a" stroke-width="1"/>
<line x1="486.07" y1="175.1" x2="486.07" y2="186.2" stroke="#9ccdb5" stroke-width="1"/>
<line x1="486.07" y1="196.0" x2="486.07" y2="198.6" stroke="#9ccdb5" stroke-width="1"/>
<rect x="484.32" y="186.7" width="3.5" height="8.8" fill="none" stroke="#3c966a" stroke-width="1"/>
<line x1="491.43" y1="162.3" x2="491.43" y2="180.7" stroke="#9ccdb5" stroke-width="1"/>
<line x1="491.43" y1="183.2" x2="491.43" y2="194.3" stroke="#9ccdb5" stroke-width="1"/>
<rect x="489.68" y="181.2" width="3.5" height="1.5" fill="none" stroke="#3c966a" stroke-width="1"/>
<line x1="496.79" y1="171.2" x2="496.79" y2="207.2" stroke="#d98f97" stroke-width="1"/>
<rect x="494.54" y="177.0" width="4.5" height="27.6" fill="#fb4d5e"/>
<line x1="502.14" y1="192.3" x2="502.14" y2="200.0" stroke="#9ccdb5" stroke-width="1"/>
<line x1="502.14" y1="203.5" x2="502.14" y2="207.3" stroke="#9ccdb5" stroke-width="1"/>
<rect x="500.39" y="200.5" width="3.5" height="2.5" fill="none" stroke="#3c966a" stroke-width="1"/>
<line x1="507.50" y1="173.3" x2="507.50" y2="190.0" stroke="#9ccdb5" stroke-width="1"/>
<line x1="507.50" y1="197.7" x2="507.50" y2="211.8" stroke="#9ccdb5" stroke-width="1"/>
<rect x="505.75" y="190.5" width="3.5" height="6.7" fill="none" stroke="#3c966a" stroke-width="1"/>
<line x1="512.86" y1="173.3" x2="512.86" y2="201.0" stroke="#d98f97" stroke-width="1"/>
<rect x="510.61" y="186.1" width="4.5" height="7.4" fill="#fb4d5e"/>
<line x1="518.22" y1="164.1" x2="518.22" y2="174.2" stroke="#9ccdb5" stroke-width="1"/>
<line x1="518.22" y1="191.2" x2="518.22" y2="230.1" stroke="#9ccdb5" stroke-width="1"/>
<rect x="516.47" y="174.7" width="3.5" height="16.0" fill="none" stroke="#3c966a" stroke-width="1"/>
<line x1="523.57" y1="168.7" x2="523.57" y2="199.0" stroke="#d98f97" stroke-width="1"/>
<rect x="521.32" y="171.5" width="4.5" height="20.9" fill="#fb4d5e"/>
<line x1="528.93" y1="177.0" x2="528.93" y2="207.5" stroke="#d98f97" stroke-width="1"/>
<rect x="526.68" y="192.8" width="4.5" height="1.2" fill="#fb4d5e"/>
<line x1="534.29" y1="178.8" x2="534.29" y2="183.6" stroke="#9ccdb5" stroke-width="1"/>
<line x1="534.29" y1="193.7" x2="534.29" y2="199.9" stroke="#9ccdb5" stroke-width="1"/>
<rect x="532.54" y="184.1" width="3.5" height="9.1" fill="none" stroke="#3c966a" stroke-width="1"/>
<line x1="539.64" y1="181.5" x2="539.64" y2="205.2" stroke="#d98f97" stroke-width="1"/>
<rect x="537.39" y="183.5" width="4.5" height="14.2" fill="#fb4d5e"/>
<line x1="545.00" y1="188.1" x2="545.00" y2="197.3" stroke="#d98f97" stroke-width="1"/>
<line x1="545.00" y1="199.3" x2="545.00" y2="205.2" stroke="#d98f97" stroke-width="1"/>
<rect x="543.25" y="197.8" width="3.5" height="1.0" fill="none" stroke="#d2404f" stroke-width="1"/>
<line x1="550.36" y1="180.5" x2="550.36" y2="214.5" stroke="#d98f97" stroke-width="1"/>
<rect x="548.11" y="196.3" width="4.5" height="10.8" fill="#fb4d5e"/>
<line x1="555.71" y1="200.1" x2="555.71" y2="221.7" stroke="#d98f97" stroke-width="1"/>
<rect x="553.46" y="206.6" width="4.5" height="10.4" fill="#fb4d5e"/>
<line x1="561.07" y1="194.5" x2="561.07" y2="200.2" stroke="#9ccdb5" stroke-width="1"/>
<line x1="561.07" y1="218.0" x2="561.07" y2="222.8" stroke="#9ccdb5" stroke-width="1"/>
<rect x="559.32" y="200.7" width="3.5" height="16.8" fill="none" stroke="#3c966a" stroke-width="1"/>
<line x1="566.43" y1="186.0" x2="566.43" y2="221.7" stroke="#d98f97" stroke-width="1"/>
<rect x="564.18" y="200.1" width="4.5" height="5.0" fill="#fb4d5e"/>
<line x1="571.78" y1="188.7" x2="571.78" y2="213.0" stroke="#d98f97" stroke-width="1"/>
<rect x="569.53" y="206.2" width="4.5" height="3.8" fill="#fb4d5e"/>
<line x1="577.14" y1="192.5" x2="577.14" y2="199.4" stroke="#9ccdb5" stroke-width="1"/>
<line x1="577.14" y1="213.3" x2="577.14" y2="216.1" stroke="#9ccdb5" stroke-width="1"/>
<rect x="575.39" y="199.9" width="3.5" height="12.9" fill="none" stroke="#3c966a" stroke-width="1"/>
<line x1="582.50" y1="185.0" x2="582.50" y2="191.6" stroke="#9ccdb5" stroke-width="1"/>
<line x1="582.50" y1="199.4" x2="582.50" y2="202.5" stroke="#9ccdb5" stroke-width="1"/>
<rect x="580.75" y="192.1" width="3.5" height="6.8" fill="none" stroke="#3c966a" stroke-width="1"/>
<line x1="587.86" y1="180.5" x2="587.86" y2="197.3" stroke="#d98f97" stroke-width="1"/>
<rect x="585.61" y="189.1" width="4.5" height="4.3" fill="#fb4d5e"/>
<line x1="593.21" y1="180.5" x2="593.21" y2="197.1" stroke="#d98f97" stroke-width="1"/>
<rect x="590.96" y="192.8" width="4.5" height="1.2" fill="#fb4d5e"/>
<line x1="598.57" y1="177.1" x2="598.57" y2="184.3" stroke="#9ccdb5" stroke-width="1"/>
<rect x="596.82" y="184.8" width="3.5" height="8.9" fill="none" stroke="#3c966a" stroke-width="1"/>
<line x1="603.93" y1="150.4" x2="603.93" y2="164.3" stroke="#9ccdb5" stroke-width="1"/>
<rect x="602.18" y="164.8" width="3.5" height="23.4" fill="none" stroke="#3c966a" stroke-width="1"/>
<line x1="609.28" y1="141.9" x2="609.28" y2="166.0" stroke="#d98f97" stroke-width="1"/>
<rect x="607.03" y="162.4" width="4.5" height="2.4" fill="#fb4d5e"/>
<line x1="614.64" y1="132.9" x2="614.64" y2="146.6" stroke="#9ccdb5" stroke-width="1"/>
<line x1="614.64" y1="164.6" x2="614.64" y2="167.0" stroke="#9ccdb5" stroke-width="1"/>
<rect x="612.89" y="147.1" width="3.5" height="17.0" fill="none" stroke="#3c966a" stroke-width="1"/>
<line x1="620.00" y1="116.1" x2="620.00" y2="141.5" stroke="#9ccdb5" stroke-width="1"/>
<line x1="620.00" y1="144.3" x2="620.00" y2="152.5" stroke="#9ccdb5" stroke-width="1"/>
<rect x="618.25" y="142.0" width="3.5" height="1.8" fill="none" stroke="#3c966a" stroke-width="1"/>
<line x1="625.36" y1="130.9" x2="625.36" y2="150.4" stroke="#9ccdb5" stroke-width="1"/>
<rect x="623.11" y="140.6" width="4.5" height="1.2" fill="#53b987"/>
<line x1="630.71" y1="126.0" x2="630.71" y2="147.0" stroke="#9ccdb5" stroke-width="1"/>
<rect x="628.46" y="135.5" width="4.5" height="1.2" fill="#53b987"/>
<line x1="636.07" y1="114.5" x2="636.07" y2="150.4" stroke="#d98f97" stroke-width="1"/>
<rect x="633.82" y="130.1" width="4.5" height="8.3" fill="#fb4d5e"/>
<line x1="641.43" y1="129.8" x2="641.43" y2="131.2" stroke="#9ccdb5" stroke-width="1"/>
<line x1="641.43" y1="141.5" x2="641.43" y2="147.7" stroke="#9ccdb5" stroke-width="1"/>
<rect x="639.68" y="131.7" width="3.5" height="9.3" fill="none" stroke="#3c966a" stroke-width="1"/>
<line x1="646.78" y1="114.5" x2="646.78" y2="129.6" stroke="#9ccdb5" stroke-width="1"/>
<line x1="646.78" y1="131.5" x2="646.78" y2="136.7" stroke="#9ccdb5" stroke-width="1"/>
<rect x="645.03" y="130.1" width="3.5" height="0.9" fill="none" stroke="#3c966a" stroke-width="1"/>
<line x1="652.14" y1="75.0" x2="652.14" y2="91.8" stroke="#9ccdb5" stroke-width="1"/>
<line x1="652.14" y1="129.7" x2="652.14" y2="134.8" stroke="#9ccdb5" stroke-width="1"/>
<rect x="650.39" y="92.3" width="3.5" height="36.9" fill="none" stroke="#3c966a" stroke-width="1"/>
<line x1="657.50" y1="66.8" x2="657.50" y2="98.8" stroke="#d98f97" stroke-width="1"/>
<rect x="655.25" y="91.9" width="4.5" height="5.1" fill="#fb4d5e"/>
<line x1="662.85" y1="84.1" x2="662.85" y2="115.7" stroke="#d98f97" stroke-width="1"/>
<rect x="660.60" y="92.7" width="4.5" height="10.8" fill="#fb4d5e"/>
<line x1="668.21" y1="81.3" x2="668.21" y2="97.5" stroke="#9ccdb5" stroke-width="1"/>
<line x1="668.21" y1="99.5" x2="668.21" y2="103.6" stroke="#9ccdb5" stroke-width="1"/>
<rect x="666.46" y="98.0" width="3.5" height="1.0" fill="none" stroke="#3c966a" stroke-width="1"/>
<line x1="673.57" y1="74.0" x2="673.57" y2="86.4" stroke="#9ccdb5" stroke-width="1"/>
<line x1="673.57" y1="93.2" x2="673.57" y2="97.0" stroke="#9ccdb5" stroke-width="1"/>
<rect x="671.82" y="86.9" width="3.5" height="5.8" fill="none" stroke="#3c966a" stroke-width="1"/>
<line x1="678.92" y1="83.0" x2="678.92" y2="87.4" stroke="#d98f97" stroke-width="1"/>
<line x1="678.92" y1="92.2" x2="678.92" y2="99.8" stroke="#d98f97" stroke-width="1"/>
<rect x="677.17" y="87.9" width="3.5" height="3.8" fill="none" stroke="#d2404f" stroke-width="1"/>
<line x1="684.28" y1="85.0" x2="684.28" y2="291.7" stroke="#d98f97" stroke-width="1"/>
<rect x="682.03" y="87.1" width="4.5" height="156.6" fill="#fb4d5e"/>
<line x1="689.64" y1="232.1" x2="689.64" y2="269.8" stroke="#d98f97" stroke-width="1"/>
<rect x="687.39" y="241.3" width="4.5" height="18.2" fill="#fb4d5e"/>
<line x1="695.00" y1="248.5" x2="695.00" y2="260.0" stroke="#d98f97" stroke-width="1"/>
<line x1="695.00" y1="263.0" x2="695.00" y2="269.8" stroke="#d98f97" stroke-width="1"/>
<rect x="693.25" y="260.5" width="3.5" height="2.0" fill="none" stroke="#d2404f" stroke-width="1"/>
<line x1="700.35" y1="255.8" x2="700.35" y2="317.4" stroke="#d98f97" stroke-width="1"/>
<rect x="698.10" y="255.8" width="4.5" height="12.9" fill="#fb4d5e"/>
<line x1="705.71" y1="241.3" x2="705.71" y2="245.1" stroke="#9ccdb5" stroke-width="1"/>
<line x1="705.71" y1="267.4" x2="705.71" y2="281.5" stroke="#9ccdb5" stroke-width="1"/>
<rect x="703.96" y="245.6" width="3.5" height="21.3" fill="none" stroke="#3c966a" stroke-width="1"/>
<line x1="711.07" y1="242.1" x2="711.07" y2="272.3" stroke="#d98f97" stroke-width="1"/>
<rect x="708.82" y="242.1" width="4.5" height="27.7" fill="#fb4d5e"/>
<line x1="716.42" y1="264.1" x2="716.42" y2="289.8" stroke="#d98f97" stroke-width="1"/>
<rect x="714.17" y="272.3" width="4.5" height="9.6" fill="#fb4d5e"/>
<line x1="721.78" y1="261.3" x2="721.78" y2="271.5" stroke="#9ccdb5" stroke-width="1"/>
<line x1="721.78" y1="281.9" x2="721.78" y2="284.9" stroke="#9ccdb5" stroke-width="1"/>
<rect x="720.03" y="272.0" width="3.5" height="9.4" fill="none" stroke="#3c966a" stroke-width="1"/>
<line x1="727.14" y1="254.0" x2="727.14" y2="265.4" stroke="#9ccdb5" stroke-width="1"/>
<line x1="727.14" y1="271.5" x2="727.14" y2="274.0" stroke="#9ccdb5" stroke-width="1"/>
<rect x="725.39" y="265.9" width="3.5" height="5.1" fill="none" stroke="#3c966a" stroke-width="1"/>
<line x1="732.50" y1="256.8" x2="732.50" y2="270.9" stroke="#d98f97" stroke-width="1"/>
<rect x="730.25" y="261.3" width="4.5" height="9.6" fill="#fb4d5e"/>
<line x1="737.85" y1="264.1" x2="737.85" y2="274.0" stroke="#d98f97" stroke-width="1"/>
<rect x="735.60" y="271.5" width="4.5" height="2.5" fill="#fb4d5e"/>
<line x1="743.21" y1="260.5" x2="743.21" y2="276.0" stroke="#9ccdb5" stroke-width="1"/>
<rect x="740.96" y="267.6" width="4.5" height="1.2" fill="#53b987"/>
<line x1="748.57" y1="266.0" x2="748.57" y2="270.5" stroke="#9ccdb5" stroke-width="1"/>
<rect x="746.82" y="263.9" width="3.5" height="1.6" fill="none" stroke="#3c966a" stroke-width="1"/>
<line x1="753.92" y1="261.3" x2="753.92" y2="273.3" stroke="#d98f97" stroke-width="1"/>
<rect x="751.67" y="266.4" width="4.5" height="4.8" fill="#fb4d5e"/>
<line x1="759.28" y1="249.5" x2="759.28" y2="258.6" stroke="#9ccdb5" stroke-width="1"/>
<rect x="757.53" y="259.1" width="3.5" height="13.7" fill="none" stroke="#3c966a" stroke-width="1"/>
<line x1="764.64" y1="240.3" x2="764.64" y2="250.6" stroke="#9ccdb5" stroke-width="1"/>
<line x1="764.64" y1="255.4" x2="764.64" y2="257.5" stroke="#9ccdb5" stroke-width="1"/>
<rect x="762.89" y="251.1" width="3.5" height="3.8" fill="none" stroke="#3c966a" stroke-width="1"/>
<line x1="769.99" y1="244.0" x2="769.99" y2="259.9" stroke="#d98f97" stroke-width="1"/>
<rect x="767.74" y="246.8" width="4.5" height="7.9" fill="#fb4d5e"/>
<line x1="775.35" y1="247.6" x2="775.35" y2="269.8" stroke="#d98f97" stroke-width="1"/>
<rect x="773.10" y="254.5" width="4.5" height="8.5" fill="#fb4d5e"/>
<rect x="778.96" y="240.1" width="3.5" height="19.6" fill="none" stroke="#3c966a" stroke-width="1"/>
<line x1="786.06" y1="236.2" x2="786.06" y2="257.5" stroke="#d98f97" stroke-width="1"/>
<rect x="783.81" y="243.5" width="4.5" height="14.0" fill="#fb4d5e"/>
<line x1="791.42" y1="243.7" x2="791.42" y2="250.3" stroke="#9ccdb5" stroke-width="1"/>
<line x1="791.42" y1="258.1" x2="791.42" y2="258.8" stroke="#9ccdb5" stroke-width="1"/>
<rect x="789.67" y="250.8" width="3.5" height="6.8" fill="none" stroke="#3c966a" stroke-width="1"/>
<line x1="796.78" y1="236.5" x2="796.78" y2="244.6" stroke="#9ccdb5" stroke-width="1"/>
<rect x="795.03" y="245.1" width="3.5" height="7.9" fill="none" stroke="#3c966a" stroke-width="1"/>
<line x1="802.14" y1="222.4" x2="802.14" y2="227.5" stroke="#9ccdb5" stroke-width="1"/>
<line x1="802.14" y1="243.7" x2="802.14" y2="244.8" stroke="#9ccdb5" stroke-width="1"/>
<rect x="800.39" y="228.0" width="3.5" height="15.2" fill="none" stroke="#3c966a" stroke-width="1"/>
<line x1="807.49" y1="197.0" x2="807.49" y2="212.1" stroke="#9ccdb5" stroke-width="1"/>
<line x1="807.49" y1="224.7" x2="807.49" y2="262.3" stroke="#9ccdb5" stroke-width="1"/>
<rect x="805.74" y="212.6" width="3.5" height="11.6" fill="none" stroke="#3c966a" stroke-width="1"/>
<line x1="812.85" y1="190.8" x2="812.85" y2="222.4" stroke="#d98f97" stroke-width="1"/>
<rect x="810.60" y="208.0" width="4.5" height="7.5" fill="#fb4d5e"/>
<line x1="818.21" y1="202.5" x2="818.21" y2="227.9" stroke="#d98f97" stroke-width="1"/>
<rect x="815.96" y="214.8" width="4.5" height="12.1" fill="#fb4d5e"/>
<line x1="823.56" y1="205.2" x2="823.56" y2="232.7" stroke="#9ccdb5" stroke-width="1"/>
<rect x="821.31" y="220.3" width="4.5" height="1.2" fill="#53b987"/>
<line x1="828.92" y1="216.9" x2="828.92" y2="223.4" stroke="#9ccdb5" stroke-width="1"/>
<rect x="827.17" y="209.2" width="3.5" height="7.2" fill="none" stroke="#3c966a" stroke-width="1"/>
<line x1="834.28" y1="196.3" x2="834.28" y2="203.6" stroke="#9ccdb5" stroke-width="1"/>
<line x1="834.28" y1="211.0" x2="834.28" y2="224.7" stroke="#9ccdb5" stroke-width="1"/>
<rect x="832.53" y="204.1" width="3.5" height="6.4" fill="none" stroke="#3c966a" stroke-width="1"/>
<line x1="839.63" y1="199.7" x2="839.63" y2="220.1" stroke="#d98f97" stroke-width="1"/>
<rect x="837.38" y="209.1" width="4.5" height="5.7" fill="#fb4d5e"/>
<line x1="844.99" y1="211.8" x2="844.99" y2="226.9" stroke="#d98f97" stroke-width="1"/>
<rect x="842.74" y="213.5" width="4.5" height="10.3" fill="#fb4d5e"/>
<line x1="850.35" y1="206.3" x2="850.35" y2="214.1" stroke="#9ccdb5" stroke-width="1"/>
<line x1="850.35" y1="218.7" x2="850.35" y2="222.4" stroke="#9ccdb5" stroke-width="1"/>
<rect x="848.60" y="214.6" width="3.5" height="3.6" fill="none" stroke="#3c966a" stroke-width="1"/>
<line x1="855.71" y1="203.6" x2="855.71" y2="218.3" stroke="#d98f97" stroke-width="1"/>
<rect x="853.46" y="214.1" width="4.5" height="4.2" fill="#fb4d5e"/>
<line x1="861.06" y1="209.1" x2="861.06" y2="223.1" stroke="#d98f97" stroke-width="1"/>
<rect x="858.81" y="213.7" width="4.5" height="9.4" fill="#fb4d5e"/>
<line x1="866.42" y1="190.8" x2="866.42" y2="199.5" stroke="#9ccdb5" stroke-width="1"/>
<line x1="866.42" y1="222.0" x2="866.42" y2="223.4" stroke="#9ccdb5" stroke-width="1"/>
<rect x="864.67" y="200.0" width="3.5" height="21.5" fill="none" stroke="#3c966a" stroke-width="1"/>
<line x1="871.78" y1="184.9" x2="871.78" y2="196.7" stroke="#9ccdb5" stroke-width="1"/>
<line x1="871.78" y1="199.7" x2="871.78" y2="201.4" stroke="#9ccdb5" stroke-width="1"/>
<rect x="870.03" y="197.2" width="3.5" height="2.0" fill="none" stroke="#3c966a" stroke-width="1"/>
<line x1="877.13" y1="191.5" x2="877.13" y2="211.4" stroke="#d98f97" stroke-width="1"/>
<rect x="874.88" y="195.3" width="4.5" height="3.7" fill="#fb4d5e"/>
<line x1="882.49" y1="190.4" x2="882.49" y2="192.9" stroke="#9ccdb5" stroke-width="1"/>
<line x1="882.49" y1="197.7" x2="882.49" y2="202.5" stroke="#9ccdb5" stroke-width="1"/>
<rect x="880.74" y="193.4" width="3.5" height="3.8" fill="none" stroke="#3c966a" stroke-width="1"/>
<line x1="887.85" y1="188.0" x2="887.85" y2="205.0" stroke="#d98f97" stroke-width="1"/>
<rect x="885.60" y="190.8" width="4.5" height="11.9" fill="#fb4d5e"/>
<line x1="893.21" y1="199.0" x2="893.21" y2="217.6" stroke="#d98f97" stroke-width="1"/>
<rect x="890.96" y="202.2" width="4.5" height="6.9" fill="#fb4d5e"/>
<line x1="898.56" y1="198.1" x2="898.56" y2="215.9" stroke="#d98f97" stroke-width="1"/>
<rect x="896.31" y="208.0" width="4.5" height="7.9" fill="#fb4d5e"/>
<line x1="903.92" y1="198.1" x2="903.92" y2="217.6" stroke="#9ccdb5" stroke-width="1"/>
<rect x="901.67" y="214.2" width="4.5" height="1.2" fill="#53b987"/>
<line x1="909.28" y1="210.2" x2="909.28" y2="307.6" stroke="#d98f97" stroke-width="1"/>
<rect x="907.03" y="214.7" width="4.5" height="33.5" fill="#fb4d5e"/>
<line x1="914.63" y1="239.2" x2="914.63" y2="256.0" stroke="#d98f97" stroke-width="1"/>
<rect x="912.38" y="252.0" width="4.5" height="1.2" fill="#fb4d5e"/>
<line x1="919.99" y1="240.1" x2="919.99" y2="259.2" stroke="#d98f97" stroke-width="1"/>
<rect x="917.74" y="246.3" width="4.5" height="12.9" fill="#fb4d5e"/>
<line x1="925.35" y1="234.5" x2="925.35" y2="245.4" stroke="#9ccdb5" stroke-width="1"/>
<line x1="925.35" y1="258.4" x2="925.35" y2="260.5" stroke="#9ccdb5" stroke-width="1"/>
<rect x="923.60" y="245.9" width="3.5" height="12.0" fill="none" stroke="#3c966a" stroke-width="1"/>
<line x1="930.70" y1="240.3" x2="930.70" y2="245.5" stroke="#9ccdb5" stroke-width="1"/>
<rect x="928.45" y="240.3" width="4.5" height="5.2" fill="#53b987"/>
</g>
<line x1="961.5" y1="39.6" x2="961.5" y2="592.3" stroke="#454545" stroke-width="1.35"/>
<line x1="5.7" y1="567.5" x2="1018.2" y2="567.5" stroke="#454545" stroke-width="1.35"/>
<g font-family="Liberation Sans, Arial, sans-serif" font-size="10" fill="#494949">
<line x1="961.5" y1="50.1" x2="965.8" y2="50.1" stroke="#4d4d4d" stroke-width="1"/>
<text x="969.7" y="53.7" textLength="41.2" lengthAdjust="spacingAndGlyphs" stroke="#494949" stroke-width="0.2">11000.00</text>
<line x1="961.5" y1="83.7" x2="965.8" y2="83.7" stroke="#4d4d4d" stroke-width="1"/>
<text x="969.7" y="87.3" textLength="41.2" lengthAdjust="spacingAndGlyphs" stroke="#494949" stroke-width="0.2">10900.00</text>
<line x1="961.5" y1="117.3" x2="965.8" y2="117.3" stroke="#4d4d4d" stroke-width="1"/>
<text x="969.7" y="120.9" textLength="41.2" lengthAdjust="spacingAndGlyphs" stroke="#494949" stroke-width="0.2">10800.00</text>
<line x1="961.5" y1="150.9" x2="965.8" y2="150.9" stroke="#4d4d4d" stroke-width="1"/>
<text x="969.7" y="154.5" textLength="41.2" lengthAdjust="spacingAndGlyphs" stroke="#494949" stroke-width="0.2">10700.00</text>
<line x1="961.5" y1="184.5" x2="965.8" y2="184.5" stroke="#4d4d4d" stroke-width="1"/>
<text x="969.7" y="188.1" textLength="41.2" lengthAdjust="spacingAndGlyphs" stroke="#494949" stroke-width="0.2">10600.00</text>
<line x1="961.5" y1="218.1" x2="965.8" y2="218.1" stroke="#4d4d4d" stroke-width="1"/>
<text x="969.7" y="221.7" textLength="41.2" lengthAdjust="spacingAndGlyphs" stroke="#494949" stroke-width="0.2">10500.00</text>
<line x1="961.5" y1="251.7" x2="965.8" y2="251.7" stroke="#4d4d4d" stroke-width="1"/>
<text x="969.7" y="255.3" textLength="41.2" lengthAdjust="spacingAndGlyphs" stroke="#494949" stroke-width="0.2">10400.00</text>
<line x1="961.5" y1="285.3" x2="965.8" y2="285.3" stroke="#4d4d4d" stroke-width="1"/>
<text x="969.7" y="288.9" textLength="41.2" lengthAdjust="spacingAndGlyphs" stroke="#494949" stroke-width="0.2">10300.00</text>
<line x1="961.5" y1="319.0" x2="965.8" y2="319.0" stroke="#4d4d4d" stroke-width="1"/>
<text x="969.7" y="322.6" textLength="41.2" lengthAdjust="spacingAndGlyphs" stroke="#494949" stroke-width="0.2">10200.00</text>
<line x1="961.5" y1="352.6" x2="965.8" y2="352.6" stroke="#4d4d4d" stroke-width="1"/>
<text x="969.7" y="356.2" textLength="41.2" lengthAdjust="spacingAndGlyphs" stroke="#494949" stroke-width="0.2">10100.00</text>
<line x1="961.5" y1="386.2" x2="965.8" y2="386.2" stroke="#4d4d4d" stroke-width="1"/>
<text x="969.7" y="389.8" textLength="41.2" lengthAdjust="spacingAndGlyphs" stroke="#494949" stroke-width="0.2">10000.00</text>
<line x1="961.5" y1="419.8" x2="965.8" y2="419.8" stroke="#4d4d4d" stroke-width="1"/>
<text x="969.7" y="423.4" textLength="36.4" lengthAdjust="spacingAndGlyphs" stroke="#494949" stroke-width="0.2">9900.00</text>
<line x1="961.5" y1="453.4" x2="965.8" y2="453.4" stroke="#4d4d4d" stroke-width="1"/>
<text x="969.7" y="457.0" textLength="36.4" lengthAdjust="spacingAndGlyphs" stroke="#494949" stroke-width="0.2">9800.00</text>
<line x1="961.5" y1="487.0" x2="965.8" y2="487.0" stroke="#4d4d4d" stroke-width="1"/>
<text x="969.7" y="490.6" textLength="36.4" lengthAdjust="spacingAndGlyphs" stroke="#494949" stroke-width="0.2">9700.00</text>
<line x1="961.5" y1="520.6" x2="965.8" y2="520.6" stroke="#4d4d4d" stroke-width="1"/>
<text x="969.7" y="524.2" textLength="36.4" lengthAdjust="spacingAndGlyphs" stroke="#494949" stroke-width="0.2">9600.00</text>
<line x1="961.5" y1="554.2" x2="965.8" y2="554.2" stroke="#4d4d4d" stroke-width="1"/>
<text x="969.7" y="557.8" textLength="36.4" lengthAdjust="spacingAndGlyphs" stroke="#494949" stroke-width="0.2">9500.00</text>
</g>
<g font-family="Liberation Sans, Arial, sans-serif" font-size="10.5" fill="#777" text-anchor="middle">
<line x1="79.8" y1="567.4" x2="79.8" y2="571.0" stroke="#6a6a6a" stroke-width="1"/>
<text x="79.8" y="585.8">2</text>
<line x1="208.4" y1="567.4" x2="208.4" y2="571.0" stroke="#6a6a6a" stroke-width="1"/>
<text x="208.4" y="585.8">3</text>
<line x1="337.0" y1="567.4" x2="337.0" y2="571.0" stroke="#6a6a6a" stroke-width="1"/>
<text x="337.0" y="585.8">4</text>
<line x1="465.5" y1="567.4" x2="465.5" y2="571.0" stroke="#6a6a6a" stroke-width="1"/>
<text x="465.5" y="585.8">5</text>
<line x1="594.1" y1="567.4" x2="594.1" y2="571.0" stroke="#6a6a6a" stroke-width="1"/>
<text x="594.1" y="585.8">6</text>
<line x1="722.7" y1="567.4" x2="722.7" y2="571.0" stroke="#6a6a6a" stroke-width="1"/>
<text x="722.7" y="585.8">7</text>
<line x1="851.2" y1="567.4" x2="851.2" y2="571.0" stroke="#6a6a6a" stroke-width="1"/>
<text x="851.2" y="585.8">8</text>
</g>
<rect x="960.7" y="237.7" width="57" height="15.2" fill="#4fb685"/>
<line x1="961.4" y1="245.5" x2="964.6" y2="245.5" stroke="#fff" stroke-width="1"/>
<rect x="981.2" y="254.9" width="36.5" height="14.9" fill="#4fb685"/>
<g font-family="Liberation Sans, Arial, sans-serif" font-size="9.8" font-weight="bold" fill="#fff">
<text x="970" y="248.9" textLength="40" lengthAdjust="spacingAndGlyphs">10418.61</text>
<text x="985.3" y="265.1" textLength="25.3" lengthAdjust="spacingAndGlyphs">59:19</text>
</g>
<g font-family="Liberation Sans, Arial, sans-serif" font-size="12">
<text x="14" y="59.9" font-size="12.6" font-weight="bold" fill="#5a5a5a" textLength="186" lengthAdjust="spacingAndGlyphs">Bitcoin / U.S. Dollar, 60, BITSTAMP</text>
<text x="14" y="74.8" fill="#5a5a5a" textLength="38.7" lengthAdjust="spacingAndGlyphs">Vol (20)</text>
</g>
</svg>
<svg class="txt" width="1024" height="626" viewBox="0 0 1024 626" text-rendering="geometricPrecision" font-family="Liberation Sans, Arial, sans-serif" font-size="12.2">
<g fill="#1c1c1c" stroke="#1c1c1c" stroke-width="0.2">
<text x="5.7" y="15.5" fill="#39a7df" stroke="#39a7df" textLength="54.4" lengthAdjust="spacingAndGlyphs">aasmakov</text>
<text x="64" y="15.5" textLength="63.2" lengthAdjust="spacingAndGlyphs">published on</text>
<text x="130.2" y="15.5" textLength="90.7" lengthAdjust="spacingAndGlyphs">TradingView.com,</text>
<text x="227.4" y="15.5" textLength="55" lengthAdjust="spacingAndGlyphs">September</text>
<text x="287.3" y="15.5" textLength="14" lengthAdjust="spacingAndGlyphs">08,</text>
<text x="306.4" y="15.5" textLength="24.6" lengthAdjust="spacingAndGlyphs">2019</text>
<text x="336.5" y="15.5" textLength="42.5" lengthAdjust="spacingAndGlyphs">15:00:43</text>
<text x="384.1" y="15.5" textLength="19.9" lengthAdjust="spacingAndGlyphs">UTC</text>
<text x="5.7" y="30.8" font-weight="bold" textLength="119.8" lengthAdjust="spacingAndGlyphs">BITSTAMP:BTCUSD, 60</text>
<text x="132.3" y="30.8" textLength="45.7" lengthAdjust="spacingAndGlyphs">10418.61</text>
<path d="M182.1 23 L192.4 23 L187.25 32.4 Z" fill="#b40a0a" stroke="none"/>
<text x="195" y="30.8" textLength="83.7" lengthAdjust="spacingAndGlyphs">−65.78 (−0.63%)</text>
<text x="283.5" y="30.8" font-weight="bold" textLength="10.8" lengthAdjust="spacingAndGlyphs">O:</text>
<text x="296.3" y="30.8" fill="#c4262b" stroke="#c4262b" textLength="48.2" lengthAdjust="spacingAndGlyphs">10431.08</text>
<text x="348.6" y="30.8" font-weight="bold" textLength="10.8" lengthAdjust="spacingAndGlyphs">H:</text>
<text x="361" y="30.8" fill="#c4262b" stroke="#c4262b" textLength="48.2" lengthAdjust="spacingAndGlyphs">10431.08</text>
<text x="414" y="30.8" font-weight="bold" textLength="8" lengthAdjust="spacingAndGlyphs">L:</text>
<text x="423.3" y="30.8" fill="#c4262b" stroke="#c4262b" textLength="48.2" lengthAdjust="spacingAndGlyphs">10418.61</text>
<text x="475.5" y="30.8" font-weight="bold" textLength="9.6" lengthAdjust="spacingAndGlyphs">C:</text>
<text x="486.5" y="30.8" fill="#c4262b" stroke="#c4262b" textLength="48" lengthAdjust="spacingAndGlyphs">10418.61</text>
<text x="5.6" y="613.9" textLength="66.5" lengthAdjust="spacingAndGlyphs">Created with</text>
<text x="97.4" y="613.9" font-size="11.3" fill="#3d9de0" stroke="#3d9de0" textLength="64" lengthAdjust="spacingAndGlyphs">TradingView</text>
</g>
<g>
<g fill="#52bfe6">
<circle cx="78.4" cy="611.5" r="3.5"/>
<circle cx="77.9" cy="613.3" r="2.8"/>
<circle cx="85.2" cy="607.8" r="5.1"/>
<circle cx="90.4" cy="607.6" r="2.9"/>
<circle cx="93.2" cy="612.5" r="3.6"/>
<rect x="77.9" y="609.5" width="15.3" height="6.6"/>
</g>
<polyline points="75.0,614.0 83,607.9 87.9,614.3 94.6,606.8" fill="none" stroke="#fff" stroke-width="1.35" stroke-linejoin="round"/>
</g>
</svg>
</body>
</html>
